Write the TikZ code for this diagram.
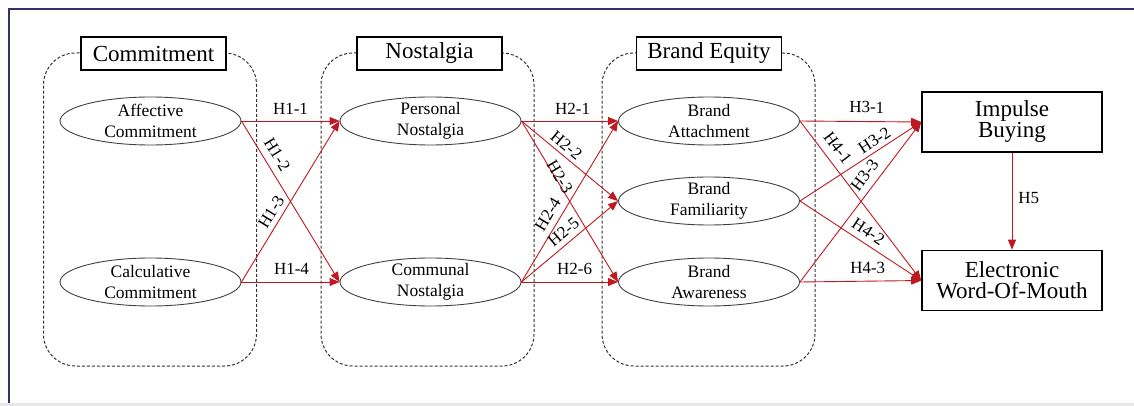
\documentclass[tikz,border=0pt]{standalone}
\usepackage{fontspec}
\setmainfont{Liberation Serif}
\usetikzlibrary{arrows.meta,shapes.geometric}
\definecolor{hypred}{RGB}{192,24,32}
\definecolor{framenavy}{RGB}{46,50,110}
\definecolor{groupgray}{RGB}{50,50,50}
\newcommand{\bigfont}{\fontsize{23}{21}\selectfont}
\newcommand{\midfont}{\fontsize{17.5}{21}\selectfont}
\newcommand{\labfont}{\fontsize{17}{20}\selectfont}

\begin{document}
\begin{tikzpicture}[x=1pt,y=-1pt,
  construct/.style={ellipse,draw=black!75,line width=0.9pt,minimum width=181pt,
    minimum height=48pt,inner sep=-1.5pt,align=center,font=\midfont},
  outcome/.style={rectangle,draw,line width=1.6pt,minimum width=180pt,
    minimum height=60pt,inner sep=0pt,align=center,font=\bigfont},
  grouptitle/.style={rectangle,draw,fill=white,line width=1.6pt,
    minimum width=145pt,minimum height=33pt,inner sep=0pt,font=\bigfont},
  groupbox/.style={rectangle,draw=groupgray,dash pattern=on 3pt off 2pt,
    line width=1pt,rounded corners=32pt,minimum width=213pt,minimum height=313pt},
  hyp/.style={draw=hypred,line width=0.9pt,-{Triangle[length=10pt,width=8pt]}},
  hlab/.style={font=\labfont,inner sep=1pt}]
  \useasboundingbox (0,0) rectangle (1134,406);

  % page frame: navy top and left rule, grey strip at the bottom
  \fill[black!9] (0,403) rectangle (1134,406);
  \draw[framenavy,line width=2.5pt] (9,403) -- (9,9) -- (1134,9);

  % the three dashed groups with their titles
  \node[groupbox] (gcom) at (150,209.5) {};
  \node[groupbox] (gnos) at (427.5,209.5) {};
  \node[groupbox] (gequ) at (708.5,209.5) {};
  \node[grouptitle] (tcom) at (153.5,53.5) {Commitment};
  \node[grouptitle] (tnos) at (429.5,53.5) {Nostalgia};
  \node[grouptitle] (tequ) at (709,53.5) {Brand Equity};

  % constructs
  \node[construct] (aff) at (150.5,121) {Affective\\Commitment};
  \node[construct] (calc) at (150.5,282) {Calculative\\Commitment};
  \node[construct] (pers) at (430.5,121) {Personal\\Nostalgia};
  \node[construct] (comm) at (430.5,282) {Communal\\Nostalgia};
  \node[construct] (att) at (709,121) {Brand\\Attachment};
  \node[construct] (fam) at (709,201) {Brand\\Familiarity};
  \node[construct] (awa) at (709,282) {Brand\\Awareness};
  \node[outcome] (imp) at (1012,122) {Impulse\\Buying};
  \node[outcome] (ewom) at (1012,280.5) {Electronic\\Word-Of-Mouth};

  % hypotheses: source/target/label/position/offset
  \foreach \src/\dst/\lab/\p/\d in {
    aff/pers/H1-1/0.50/5pt,
    aff/comm/H1-2/0.25/6pt,
    calc/pers/H1-3/0.40/4pt,
    calc/comm/H1-4/0.51/6pt,
    pers/att/H2-1/0.53/5pt,
    pers/fam/H2-2/0.40/3pt,
    pers/awa/H2-3/0.36/-3pt,
    comm/att/H2-4/0.38/5pt,
    comm/fam/H2-5/0.51/4pt,
    comm/awa/H2-6/0.55/6pt,
    att/imp/H3-1/0.55/7pt,
    fam/imp/H3-2/0.66/3pt,
    awa/imp/H3-3/0.62/6pt,
    att/ewom/H4-1/0.22/7pt,
    fam/ewom/H4-2/0.51/5pt,
    awa/ewom/H4-3/0.56/6pt}
    \draw[hyp] (\src.east) -- node[hlab,sloped,pos=\p,above=\d] {\lab} (\dst.west);
  \draw[hyp] (imp.south) -- node[hlab,pos=0.47,right=5pt] {H5} (ewom.north);
\end{tikzpicture}
\end{document}
